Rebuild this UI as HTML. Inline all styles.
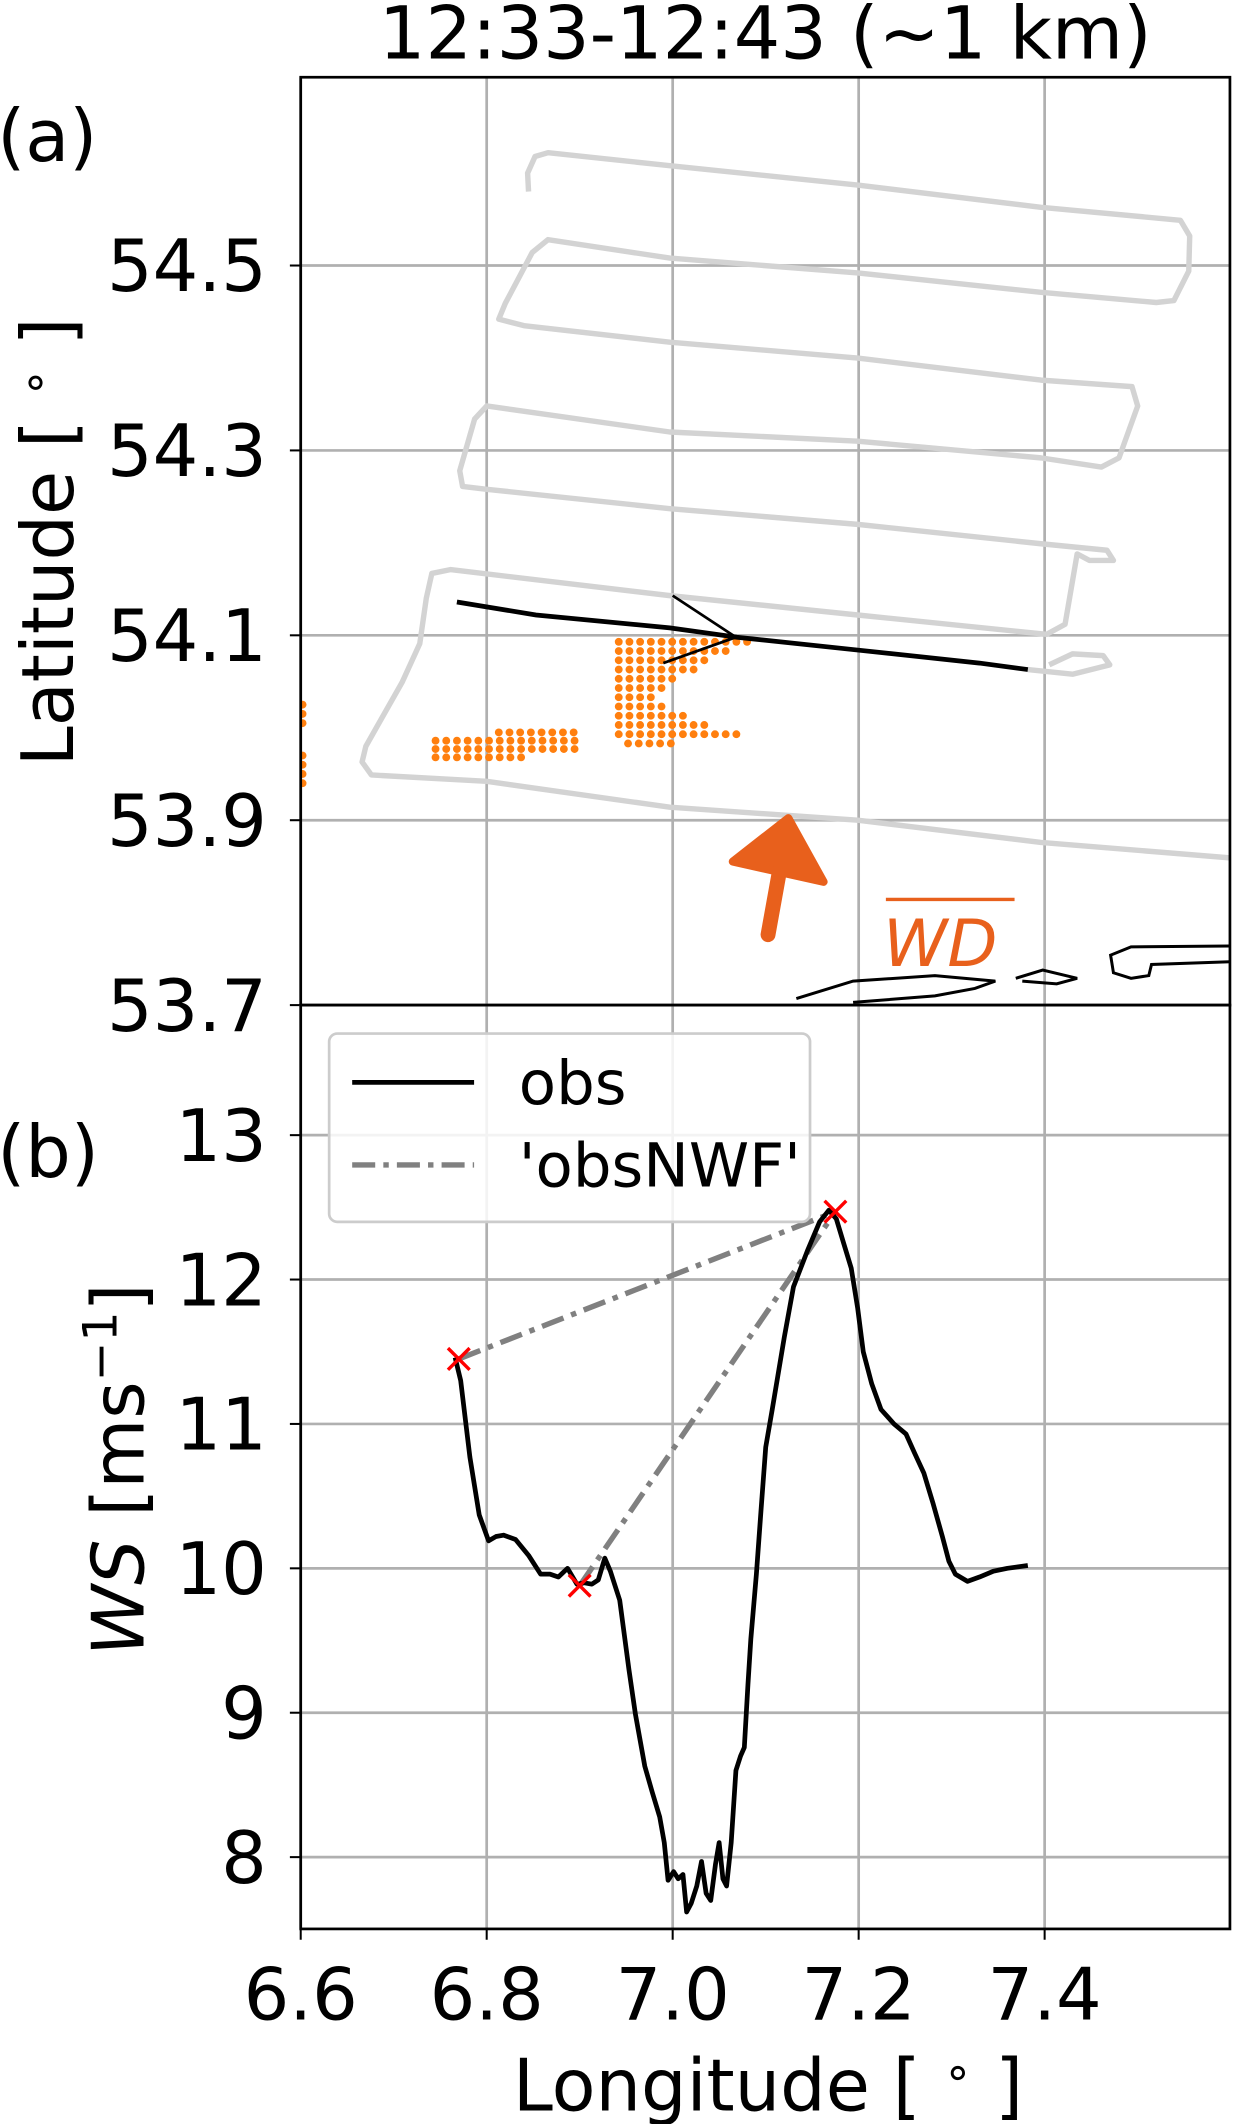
<!DOCTYPE html>
<html><head><meta charset="utf-8"><style>
html,body{margin:0;padding:0;background:#fff;}
svg{display:block;font-family:"DejaVu Sans","Liberation Sans",sans-serif;}
</style></head><body>
<svg id="fig" width="1234" height="2124" viewBox="0 0 911 1568" xmlns="http://www.w3.org/2000/svg">
<text x="565" y="43" font-size="54" text-anchor="middle">12:33-12:43 (~1 km)</text>
<text x="-2" y="119" font-size="53">(a)</text>
<text x="-2" y="869" font-size="53">(b)</text>
<text transform="translate(54,400) rotate(-90)" font-size="53" text-anchor="middle">Latitude [ <tspan font-size="34" dy="-17">∘</tspan><tspan dy="17"> ]</tspan></text>
<text transform="translate(106,1085) rotate(-90)" font-size="53" text-anchor="middle"><tspan font-style="italic">WS</tspan> [ms<tspan font-size="35" dy="-20">−1</tspan><tspan dy="20">]</tspan></text>
<text x="567" y="1558" font-size="53" text-anchor="middle">Longitude [ <tspan font-size="34" dy="-17">∘</tspan><tspan dy="17"> ]</tspan></text>
<g id="gA"></g>
<g id="gB"></g>
</svg>
<script>
// ---- panel (a) data ----
const latTicks = [54.5, 54.3, 54.1, 53.9, 53.7];
const lonTicks = [6.6, 6.8, 7.0, 7.2, 7.4];
const trackLon = [6.845,6.844,6.852,6.866,6.997,7.199,7.396,7.546,7.556,7.555,7.539,7.520,7.396,7.199,6.997,6.866,6.849,6.820,6.813,6.840,6.997,7.199,7.396,7.494,7.500,7.480,7.461,7.396,7.199,6.997,6.800,6.787,6.771,6.774,6.800,6.997,7.199,7.396,7.467,7.474,7.448,7.435,7.422,7.402,7.199,6.997,6.761,6.741,6.735,6.728,6.709,6.670,6.666,6.676,6.800,6.997,7.199,7.396,7.603];
const trackLat = [54.580,54.600,54.618,54.622,54.608,54.587,54.563,54.549,54.532,54.494,54.462,54.460,54.471,54.492,54.508,54.528,54.514,54.459,54.442,54.435,54.417,54.400,54.376,54.369,54.348,54.292,54.282,54.292,54.310,54.320,54.348,54.334,54.278,54.261,54.258,54.237,54.220,54.199,54.192,54.181,54.181,54.188,54.112,54.101,54.122,54.143,54.171,54.167,54.140,54.091,54.049,53.980,53.963,53.949,53.942,53.914,53.900,53.876,53.859];
const loopLon = [7.382,7.430,7.470,7.463,7.430,7.405];
const loopLat = [54.063,54.058,54.068,54.078,54.080,54.068];
const flightLon = [6.768,6.853,6.997,7.069,7.199,7.330,7.382];
const flightLat = [54.136,54.122,54.108,54.098,54.084,54.070,54.063];
const barbLon = [7.000,7.068,6.990];
const barbLat = [54.143,54.098,54.070];
// orange dot rows: [lat, lonStart, lonEnd]
const dotRowLat = [54.025,54.015,54.005,53.970,53.960,53.950,53.940,
  53.995,53.986,53.977,53.968,
  54.093,54.083,54.073,54.063,54.053,54.043,54.033,54.023,54.013,54.003,53.993,53.983];
const dotRowStart = [6.602,6.602,6.602,6.602,6.602,6.602,6.602,
  6.813,6.745,6.745,6.745,
  6.942,6.942,6.942,6.942,6.942,6.942,6.942,6.942,6.942,6.942,6.942,6.952];
const dotRowEnd = [6.612,6.612,6.612,6.612,6.612,6.612,6.612,
  6.900,6.900,6.904,6.840,
  7.084,7.065,7.045,7.025,7.005,6.990,6.985,6.995,7.015,7.035,7.070,7.000];
const coast1Lon = [7.133,7.194,7.282,7.347,7.325,7.282,7.194];
const coast1Lat = [53.707,53.726,53.732,53.726,53.718,53.710,53.703];
const coast2Lon = [7.369,7.398,7.435,7.413,7.376];
const coast2Lat = [53.729,53.738,53.729,53.723,53.726];
const coast3Lon = [7.604,7.493,7.471,7.474,7.493,7.512,7.515,7.604];
const coast3Lat = [53.764,53.763,53.754,53.735,53.729,53.732,53.744,53.747];

// ---- panel (b) data ----
const wsTicks = [13,12,11,10,9,8];
const obsLon = [6.766,6.772,6.782,6.792,6.802,6.810,6.818,6.831,6.845,6.858,6.868,6.877,6.887,6.897,6.905,6.913,6.920,6.927,6.933,6.943,6.953,6.960,6.970,6.978,6.986,6.991,6.995,7.001,7.006,7.011,7.015,7.020,7.026,7.031,7.036,7.041,7.046,7.050,7.054,7.058,7.063,7.068,7.073,7.077,7.081,7.084,7.090,7.095,7.100,7.107,7.113,7.120,7.130,7.145,7.158,7.168,7.176,7.184,7.192,7.199,7.205,7.214,7.224,7.238,7.251,7.260,7.270,7.280,7.290,7.297,7.304,7.317,7.330,7.345,7.360,7.382];
const obsWS = [11.46,11.3,10.77,10.37,10.19,10.22,10.23,10.2,10.09,9.96,9.96,9.94,10.0,9.89,9.9,9.89,9.92,10.07,9.98,9.78,9.3,8.99,8.63,8.45,8.28,8.1,7.84,7.9,7.85,7.88,7.62,7.68,7.8,7.97,7.75,7.7,7.95,8.1,7.85,7.8,8.1,8.6,8.7,8.76,9.2,9.51,9.96,10.4,10.84,11.1,11.33,11.6,11.95,12.2,12.4,12.48,12.42,12.25,12.08,11.8,11.5,11.28,11.1,11.0,10.93,10.8,10.66,10.45,10.22,10.05,9.96,9.91,9.94,9.98,10.0,10.02];
const nwfLon = [6.770,7.175,6.900];
const nwfWS = [11.45,12.47,9.88];

const NS='http://www.w3.org/2000/svg';
const X0=222, X1=908;
const lonX = v => X0 + (v-6.6)*686.5;
const latY = v => 742 - (v-53.7)*682.5;
const wsY = v => 838 + (13-v)*106.6;
function mk(tag, attrs, parent){const e=document.createElementNS(NS,tag);for(const k in attrs)e.setAttribute(k,attrs[k]);parent.appendChild(e);return e;}
const gA=document.getElementById('gA'), gB=document.getElementById('gB');

const defs=mk('defs',{},document.getElementById('fig'));
const cA=mk('clipPath',{id:'clipA'},defs); mk('rect',{x:X0,y:57,width:X1-X0,height:685},cA);
const cB=mk('clipPath',{id:'clipB'},defs); mk('rect',{x:X0,y:742,width:X1-X0,height:682},cB);

lonTicks.forEach(t=>{const l=mk('line',{x1:lonX(t),x2:lonX(t),y1:57,y2:742,stroke:'#b0b0b0','stroke-width':2},gA);

});
latTicks.forEach(t=>{const l=mk('line',{x1:X0,x2:X1,y1:latY(t),y2:latY(t),stroke:'#b0b0b0','stroke-width':2},gA);


mk('line',{x1:X0-8,x2:X0,y1:latY(t),y2:latY(t),stroke:'#000','stroke-width':1.5},gA);
const tx=mk('text',{x:X0-25,y:latY(t)+19,'font-size':53,'text-anchor':'end'},gA);tx.textContent=t.toFixed(1);

});
const gAc=mk('g',{'clip-path':'url(#clipA)'},gA);
function poly(lons,lats,conv,attrs,parent,name){
  const pts=lons.map((v,i)=>lonX(v).toFixed(1)+','+conv(lats[i]).toFixed(1)).join(' ');
  const p=mk('polyline',Object.assign({points:pts,fill:'none'},attrs),parent);
  
  
  return p;}
poly(trackLon,trackLat,latY,{stroke:'#d3d3d3','stroke-width':4,'stroke-linejoin':'round'},gAc,'flight-track');
poly(loopLon,loopLat,latY,{stroke:'#d3d3d3','stroke-width':4,'stroke-linejoin':'round'},gAc,'track-loop');
dotRowLat.forEach((la,i)=>{for(let lo=dotRowStart[i];lo<=dotRowEnd[i]+1e-6;lo+=0.0115){
  const c=mk('circle',{cx:lonX(lo),cy:latY(la),r:2.9,fill:'#ff7f0e'},gAc);
  
  }});
poly(flightLon,flightLat,latY,{stroke:'#000','stroke-width':3.5},gAc,'leg-track');
poly(barbLon,barbLat,latY,{stroke:'#000','stroke-width':2},gAc,'wind-barb');
[[coast1Lon,coast1Lat],[coast2Lon,coast2Lat],[coast3Lon,coast3Lat]].forEach(([a,b])=>{
  poly(a,b,latY,{stroke:'#000','stroke-width':2.2},gAc,'coastline');});
const arr=mk('g',{},gAc);


mk('line',{x1:567,y1:690,x2:576,y2:640,stroke:'#e8601c','stroke-width':11,'stroke-linecap':'round'},arr);
mk('polygon',{points:'582,604 541,636 608,651',fill:'#e8601c',stroke:'#e8601c','stroke-width':6,'stroke-linejoin':'round'},arr);
const wd=mk('text',{x:652,y:713,'font-size':48,'font-style':'italic',fill:'#e8601c'},gAc);wd.textContent='WD';


mk('line',{x1:654,x2:749,y1:664,y2:664,stroke:'#e8601c','stroke-width':2.5},gAc);
mk('rect',{x:X0,y:57,width:X1-X0,height:685,fill:'none',stroke:'#000','stroke-width':2},gA);

lonTicks.forEach(t=>{const l=mk('line',{x1:lonX(t),x2:lonX(t),y1:742,y2:1424,stroke:'#b0b0b0','stroke-width':2},gB);


mk('line',{x1:lonX(t),x2:lonX(t),y1:1424,y2:1432,stroke:'#000','stroke-width':1.5},gB);
const tx=mk('text',{x:lonX(t),y:1491,'font-size':53,'text-anchor':'middle'},gB);tx.textContent=t.toFixed(1);

});
wsTicks.forEach(t=>{const l=mk('line',{x1:X0,x2:X1,y1:wsY(t),y2:wsY(t),stroke:'#b0b0b0','stroke-width':2},gB);


mk('line',{x1:X0-8,x2:X0,y1:wsY(t),y2:wsY(t),stroke:'#000','stroke-width':1.5},gB);
const tx=mk('text',{x:X0-25,y:wsY(t)+19,'font-size':53,'text-anchor':'end'},gB);tx.textContent=String(t);

});
const gBc=mk('g',{'clip-path':'url(#clipB)'},gB);
const dash={stroke:'#808080','stroke-width':4,'stroke-dasharray':'17,6,4,6'};
poly([nwfLon[0],nwfLon[1]],[nwfWS[0],nwfWS[1]],wsY,dash,gBc,'obsnwf-line-1');
poly([nwfLon[2],nwfLon[1]],[nwfWS[2],nwfWS[1]],wsY,dash,gBc,'obsnwf-line-2');
poly(obsLon,obsWS,wsY,{stroke:'#000','stroke-width':3.5,'stroke-linejoin':'round'},gBc,'obs-line');
nwfLon.forEach((lo,i)=>{const x=lonX(lo),y=wsY(nwfWS[i]);
  const m=mk('path',{d:`M${x-8},${y-8}L${x+8},${y+8}M${x-8},${y+8}L${x+8},${y-8}`,stroke:'#ff0000','stroke-width':2.5},gBc);
  
  });
const lg=mk('g',{},gB);


mk('rect',{x:243,y:763,width:355,height:139,rx:6,fill:'#fff','fill-opacity':0.85,stroke:'#cccccc','stroke-width':2},lg);
mk('line',{x1:260,x2:350,y1:799,y2:799,stroke:'#000','stroke-width':3.5},lg);
const t1=mk('text',{x:383,y:815,'font-size':45},lg);t1.textContent='obs';


mk('line',Object.assign({x1:260,x2:350,y1:860,y2:860},dash),lg);
const t2=mk('text',{x:383,y:876,'font-size':45},lg);t2.textContent="'obsNWF'";


mk('rect',{x:X0,y:742,width:X1-X0,height:682,fill:'none',stroke:'#000','stroke-width':2},gB);
</script>
</body></html>
